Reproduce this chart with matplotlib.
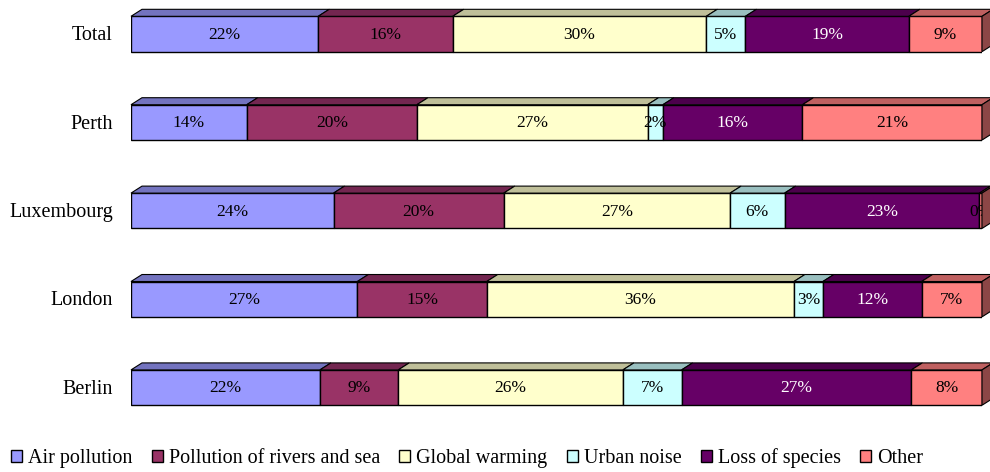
import matplotlib
matplotlib.use("Agg")
import matplotlib.pyplot as plt
from matplotlib.patches import Polygon, Patch

# Share of respondents naming each environmental concern, per city
cities = ["Berlin", "London", "Luxembourg", "Perth", "Total"]
series = ["Air pollution", "Pollution of rivers and sea", "Global warming",
          "Urban noise", "Loss of species", "Other"]
air_pollution = [22.2, 26.6, 23.8, 13.6, 22.0]
rivers_and_sea = [9.2, 15.2, 20.0, 20.0, 15.8]
global_warming = [26.4, 36.1, 26.6, 27.1, 29.8]
urban_noise = [6.9, 3.4, 6.4, 1.8, 4.6]
loss_of_species = [27.0, 11.6, 22.9, 16.4, 19.2]
other = [8.3, 7.1, 0.3, 21.1, 8.6]
values = [air_pollution, rivers_and_sea, global_warming, urban_noise,
          loss_of_species, other]

front_colors = ["#9999FF", "#993366", "#FFFFCC", "#CCFFFF", "#660066", "#FF8080"]
top_colors = ["#7373BF", "#732650", "#BFBF99", "#99BFBF", "#4C004C", "#BF6060"]
side_color = "#8C4646"
label_colors = ["black", "black", "black", "black", "white", "black"]

FONT = "Liberation Serif"
W, H = 990, 472
fig = plt.figure(figsize=(W / 100, H / 100), dpi=100)

# axes geometry in pixels
ax_left, ax_right = 131, 982
row_px = 88.4
ylim = (-0.62, 4.38)
ax_h = row_px * (ylim[1] - ylim[0])
ax_top = 0.4
ax = fig.add_axes([ax_left / W, 1 - (ax_top + ax_h) / H,
                   (ax_right - ax_left) / W, ax_h / H])
ax.set_xlim(0, 100)
ax.set_ylim(*ylim)
ax.axis("off")

bar_h = 0.40
depth_x = 11 * 100 / (ax_right - ax_left)
depth_y = 7 / row_px

for yi, city in enumerate(cities):
    left = 0.0
    top_y = yi + bar_h / 2
    for si in range(len(series)):
        v = values[si][yi]
        ax.barh(yi, v, left=left, height=bar_h, color=front_colors[si],
                edgecolor="black", linewidth=1.0, zorder=2)
        poly = Polygon([(left, top_y), (left + v, top_y),
                        (left + v + depth_x, top_y + depth_y),
                        (left + depth_x, top_y + depth_y)],
                       closed=True, facecolor=top_colors[si],
                       edgecolor="black", linewidth=0.8, zorder=2,
                       clip_on=False)
        ax.add_patch(poly)
        ax.text(left + v / 2, yi - 0.01, f"{v:.0f}%", ha="center", va="center",
                fontsize=12.5, family=FONT, color=label_colors[si], zorder=3)
        left += v
    side = Polygon([(left, yi - bar_h / 2), (left, top_y),
                    (left + depth_x, top_y + depth_y),
                    (left + depth_x, yi - bar_h / 2 + depth_y)],
                   closed=True, facecolor=side_color, edgecolor="black",
                   linewidth=0.8, zorder=4, clip_on=False)
    ax.add_patch(side)
    ax.text(-18 * 100 / (ax_right - ax_left), yi - 0.02, city, ha="right",
            va="center", fontsize=14.5, family=FONT, color="black")

handles = [Patch(facecolor=c, edgecolor="black", linewidth=1.0)
           for c in front_colors]
fig.legend(handles, series, loc="center left",
           bbox_to_anchor=(11 / W, 1 - 458 / H),
           ncol=6, frameon=False, handlelength=0.55, handleheight=0.55,
           handletextpad=0.3, columnspacing=0.95, borderaxespad=0.0,
           borderpad=0.0, prop={"family": FONT, "size": 14.5})

fig.savefig("out.png", dpi=100)
